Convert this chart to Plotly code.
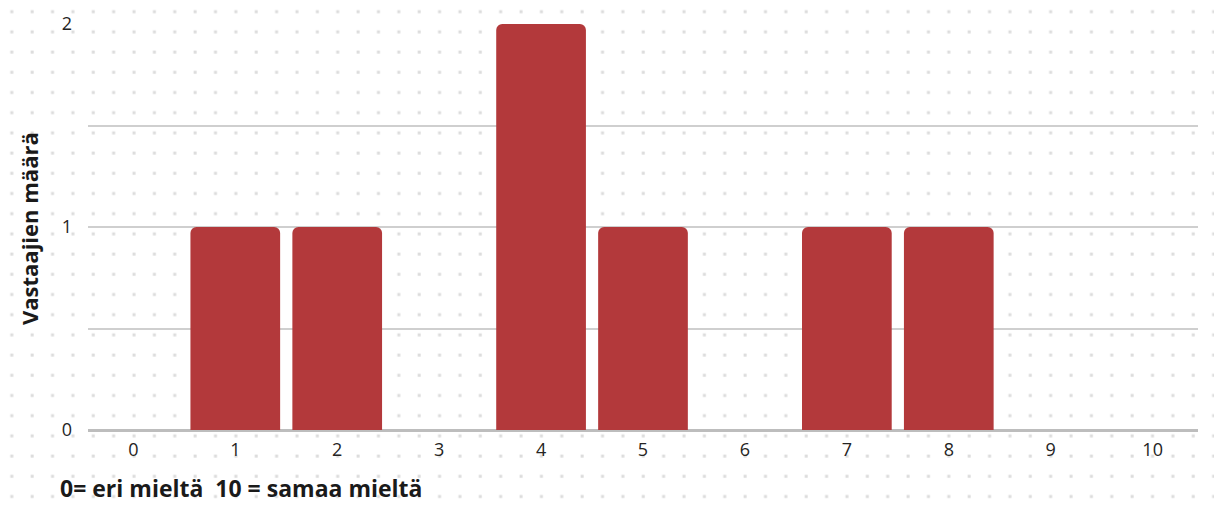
import base64
import plotly.graph_objects as go

categories = ["0", "1", "2", "3", "4", "5", "6", "7", "8", "9", "10"]
counts = [0, 1, 1, 0, 2, 1, 0, 1, 1, 0, 0]
y_tick_values = [0, 0.5, 1, 1.5, 2]
y_tick_labels = ["0", "", "1", "", "2"]
x_title = "0= eri mieltä  10 = samaa mieltä"
y_title = "Vastaajien määrä"

W, H = 1214, 514
ML, MR, MT, MB = 88, 16, 24, 84
PW, PH = W - ML - MR, H - MT - MB

svg = f'''<svg xmlns="http://www.w3.org/2000/svg" width="{W}" height="{H}" viewBox="0 0 {W} {H}">
<defs><pattern id="p" x="0" y="0" width="20.37" height="20.2" patternUnits="userSpaceOnUse">
<rect x="10.3" y="10.2" width="3" height="3" fill="#dcdcdc"/></pattern></defs>
<rect width="{W}" height="{H}" fill="url(#p)"/></svg>'''
src = "data:image/svg+xml;base64," + base64.b64encode(svg.encode()).decode()

tick_font = dict(family="Open Sans", size=18, color="#252423")
x_title_font = dict(family="Open Sans", size=23, color="#1a1a1a", weight="bold")
y_title_font = dict(family="Open Sans", size=22, color="#1a1a1a", weight="bold")

fig = go.Figure(go.Bar(
    x=categories, y=counts,
    marker=dict(color="#B3393B", line=dict(width=0)),
    width=0.88,
    hoverinfo="skip",
))

fig.update_layout(
    width=W, height=H,
    margin=dict(l=ML, r=MR, t=MT, b=MB, pad=0),
    paper_bgcolor="white",
    plot_bgcolor="rgba(0,0,0,0)",
    barcornerradius=6,
    showlegend=False,
    font=tick_font,
    images=[dict(source=src, xref="paper", yref="paper",
                 x=-ML / PW, y=1 + MT / PH, sizex=W / PW, sizey=H / PH,
                 xanchor="left", yanchor="top", sizing="stretch", layer="below")],
    xaxis=dict(
        type="category", range=[-0.445, 10.445],
        showgrid=False, zeroline=False, showline=False, ticks="",
        ticklabelstandoff=7, tickfont=tick_font,
    ),
    yaxis=dict(
        range=[0, 2], tickvals=y_tick_values, ticktext=y_tick_labels,
        showgrid=True, gridcolor="#cfcfcf", gridwidth=1.5,
        zeroline=True, zerolinecolor="#bdbdbd", zerolinewidth=2.5,
        showline=False, ticks="", ticklabelstandoff=15, tickfont=tick_font,
    ),
    annotations=[
        dict(text=x_title, xref="paper", yref="paper",
             x=-(ML - 58) / PW, y=-(488 - MT - PH) / PH,
             xanchor="left", yanchor="middle", showarrow=False,
             font=x_title_font),
        dict(text=y_title, xref="paper", yref="paper",
             x=-(ML - 29) / PW, y=1 - (229 - MT) / PH,
             xanchor="center", yanchor="middle", textangle=-90, showarrow=False,
             font=y_title_font),
    ],
)

fig.write_html("out.html")
